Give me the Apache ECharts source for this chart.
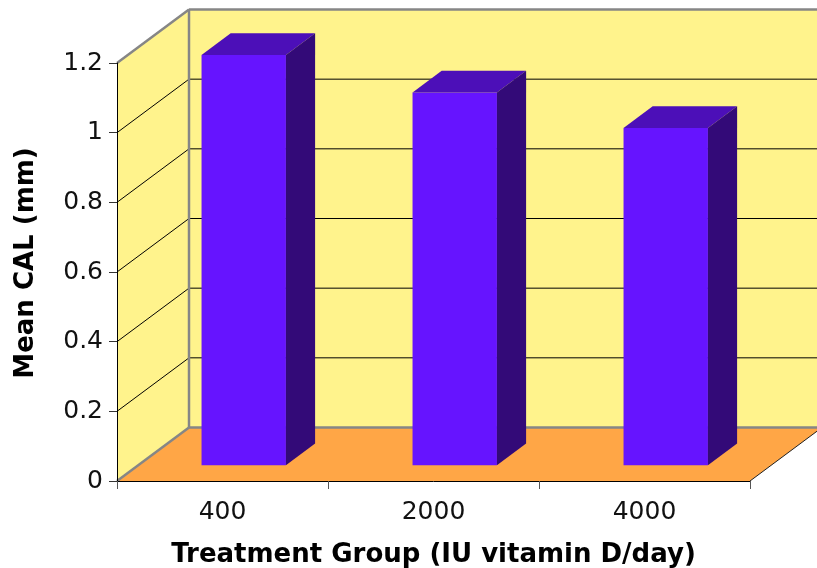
<!DOCTYPE html>
<html>
<head>
<meta charset="utf-8">
<title>Mean CAL</title>
<style>
    html, body { margin: 0; padding: 0; background: #fff; }
    #container { width: 817px; height: 568px; }
</style>
<script src="https://cdn.jsdelivr.net/npm/echarts@6/dist/echarts.min.js"></script>
</head>
<body>
<div id="container"></div>
<script type="text/javascript">
    var categories = ['400', '2000', '4000'];
    var meanCal = [1.178, 1.07, 0.968];
    var gridValues = [0.2, 0.4, 0.6, 0.8, 1, 1.2];

    // depth of the fake 3d box, in pixels
    var depthX = 72;
    var depthY = 53.5;
    // bar sits between these fractions of the depth
    var barFront = 0.295;
    var barBack = 0.70;
    var barWidth = 0.4;

    var gray = '#868686';

    function poly(points, fill) {
        return { type: 'polygon', shape: { points: points }, style: { fill: fill, stroke: null } };
    }
    function seg(a, b, color, width) {
        return {
            type: 'line',
            shape: { x1: a[0], y1: a[1], x2: b[0], y2: b[1] },
            style: { stroke: color, lineWidth: width }
        };
    }
    function back(p, d) {
        return [p[0] + depthX * d, p[1] - depthY * d];
    }

    function renderWalls(params, api) {
        var band = api.size([1, 0])[0];
        var x0 = api.coord([0, 0])[0] - band / 2;
        var x1 = x0 + band * categories.length;
        var yOf = function (v) { return api.coord([0, v])[1]; };
        var o = [x0, yOf(0)];
        var t = [x0, yOf(1.2)];
        var r = [x1, yOf(0)];
        var rt = [x1, yOf(1.2)];
        var children = [
            poly([o, t, back(t, 1), back(o, 1)], '#FFF38C'),
            poly([back(o, 1), back(t, 1), back(rt, 1), back(r, 1)], '#FFF38C'),
            poly([o, back(o, 1), back(r, 1), r], '#FFA646')
        ];
        gridValues.forEach(function (v) {
            var p = [x0, yOf(v)];
            if (v < 1.2) {
                children.push(seg(p, back(p, 1), '#000', 1));
                children.push(seg(back(p, 1), back([x1, p[1]], 1), '#000', 1));
            }
        });
        children.push(seg(t, back(t, 1), gray, 2.5));
        children.push(seg(back(t, 1), back(rt, 1), gray, 2.5));
        children.push(seg(back(o, 1), back(t, 1), gray, 2.5));
        children.push(seg(o, back(o, 1), gray, 2.5));
        children.push(seg(back(o, 1), back(r, 1), gray, 2.5));
        children.push(seg(r, back(r, 1), '#222', 1));
        return { type: 'group', children: children };
    }

    function renderBar(params, api) {
        var idx = api.value(0);
        var band = api.size([1, 0])[0];
        var c = api.coord([idx, 0]);
        var top = api.coord([idx, api.value(1)]);
        var half = band * barWidth / 2;
        var bl = back([c[0] - half, c[1]], barFront);
        var br = back([c[0] + half, c[1]], barFront);
        var tl = back([c[0] - half, top[1]], barFront);
        var tr = back([c[0] + half, top[1]], barFront);
        var d = barBack - barFront;
        return {
            type: 'group',
            children: [
                poly([bl, tl, tr, br], '#6614FF'),
                poly([tl, back(tl, d), back(tr, d), tr], '#4C0FB8'),
                poly([br, tr, back(tr, d), back(br, d)], '#330A78')
            ]
        };
    }

    var myChart = echarts.init(document.getElementById('container'), null, { renderer: 'canvas' });
    var option = {
        animation: false,
        textStyle: { fontFamily: 'DejaVu Sans' },
        grid: { left: 117, right: 67, top: 63, bottom: 87, outerBoundsMode: 'none' },
        xAxis: {
            type: 'category',
            data: categories,
            z: 1,
            axisLine: { lineStyle: { color: '#000', width: 1 } },
            axisTick: { show: true, length: 8, lineStyle: { color: '#555' } },
            axisLabel: { color: '#111', fontSize: 25, margin: 19 },
            name: 'Treatment Group (IU vitamin D/day)',
            nameLocation: 'middle',
            nameGap: 61,
            nameTextStyle: { color: '#000', fontSize: 26, fontWeight: 'bold' }
        },
        yAxis: {
            type: 'value',
            min: 0,
            max: 1.2,
            interval: 0.2,
            z: 1,
            axisLine: { show: true, lineStyle: { color: '#000', width: 1 } },
            axisTick: { show: true, length: 8, lineStyle: { color: '#333' } },
            axisLabel: { color: '#111', fontSize: 25, margin: 14, padding: [3, 0, 0, 0] },
            splitLine: { show: false },
            name: 'Mean CAL (mm)',
            nameLocation: 'middle',
            nameGap: 78,
            nameTextStyle: { color: '#000', fontSize: 26, fontWeight: 'bold', padding: [0, 0, 0, 18] }
        },
        series: [
            {
                type: 'custom',
                z: 0,
                clip: false,
                silent: true,
                renderItem: renderWalls,
                data: [[0]]
            },
            {
                type: 'custom',
                z: 2,
                clip: false,
                renderItem: renderBar,
                encode: { x: 0, y: 1 },
                data: meanCal.map(function (v, i) { return [i, v]; })
            }
        ]
    };
    myChart.setOption(option);
</script>
</body>
</html>
